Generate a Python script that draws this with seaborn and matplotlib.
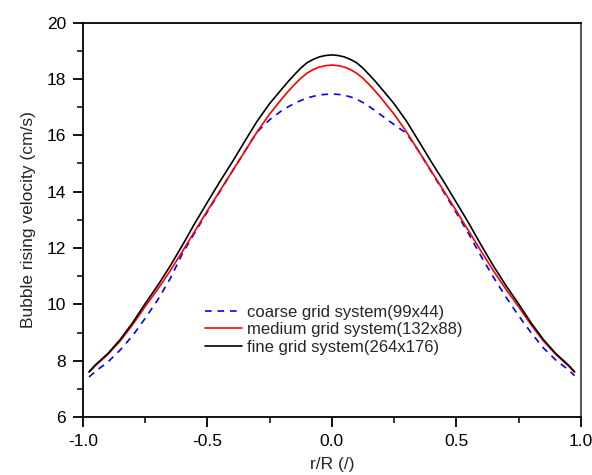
import matplotlib
matplotlib.use("Agg")
import matplotlib.pyplot as plt
import seaborn as sns
import pandas as pd
from matplotlib.ticker import MultipleLocator

sns.set_theme(style="white")
plt.rcParams['font.family'] = ['Liberation Sans', 'DejaVu Sans']

r = [-0.975, -0.95, -0.90, -0.85, -0.80, -0.75, -0.70, -0.65, -0.60, -0.55, -0.50,
     -0.45, -0.40, -0.35, -0.30, -0.25, -0.20, -0.175, -0.15, -0.125, -0.10, -0.075,
     -0.05, -0.025, 0.0,
     0.025, 0.05, 0.075, 0.10, 0.125, 0.15, 0.175, 0.20, 0.25, 0.30, 0.35, 0.40, 0.45, 0.50,
     0.55, 0.60, 0.65, 0.70, 0.75, 0.80, 0.85, 0.90, 0.95, 0.975]

coarse = [7.42, 7.62, 7.95, 8.38, 8.89, 9.50, 10.15, 10.90, 11.80, 12.55, 13.28,
          14.00, 14.72, 15.42, 16.12, 16.55, 16.88, 17.01, 17.13, 17.23, 17.32, 17.38,
          17.43, 17.45, 17.46,
          17.45, 17.42, 17.36, 17.28, 17.16, 17.02, 16.87, 16.70, 16.38, 16.07, 15.42,
          14.70, 13.98, 13.25,
          12.50, 11.70, 10.95, 10.25, 9.60, 9.00, 8.45, 8.02, 7.68, 7.47]

medium = [7.59, 7.82, 8.22, 8.70, 9.28, 9.92, 10.53, 11.18, 11.88, 12.60, 13.32,
          14.02, 14.72, 15.42, 16.12, 16.75, 17.30, 17.56, 17.80, 18.02, 18.20, 18.33,
          18.42, 18.47, 18.49,
          18.47, 18.42, 18.33, 18.20, 18.02, 17.80, 17.56, 17.30, 16.75, 16.12, 15.42,
          14.72, 14.02, 13.32,
          12.60, 11.88, 11.18, 10.53, 9.92, 9.28, 8.70, 8.22, 7.82, 7.59]

fine = [7.61, 7.85, 8.25, 8.75, 9.35, 10.02, 10.66, 11.35, 12.10, 12.88, 13.62,
        14.35, 15.05, 15.78, 16.50, 17.12, 17.65, 17.91, 18.15, 18.38, 18.57, 18.69,
        18.78, 18.83, 18.85,
        18.83, 18.78, 18.69, 18.57, 18.38, 18.15, 17.91, 17.65, 17.12, 16.50, 15.78,
        15.05, 14.35, 13.62,
        12.88, 12.10, 11.35, 10.66, 10.02, 9.35, 8.75, 8.25, 7.85, 7.61]

labels = ["coarse grid system(99x44)", "medium grid system(132x88)", "fine grid system(264x176)"]
colors = ["#0000ff", "#ff0000", "#000000"]

df = pd.concat([
    pd.DataFrame({"r": r, "v": coarse, "grid": labels[0]}),
    pd.DataFrame({"r": r, "v": medium, "grid": labels[1]}),
    pd.DataFrame({"r": r, "v": fine, "grid": labels[2]}),
])

fig = plt.figure(figsize=(5.92, 4.75), dpi=100)
ax = fig.add_axes([0.140, 0.122, 0.841, 0.8306])

sns.lineplot(data=df, x="r", y="v", hue="grid", style="grid",
             hue_order=labels, style_order=labels,
             palette=dict(zip(labels, colors)),
             dashes={labels[0]: (4, 3.5), labels[1]: "", labels[2]: ""},
             linewidth=1.2, sort=False, estimator=None, ax=ax)

ax.set_xlim(-1.0, 1.0)
ax.set_ylim(6, 20)
ax.xaxis.set_major_locator(MultipleLocator(0.5))
ax.xaxis.set_minor_locator(MultipleLocator(0.25))
ax.yaxis.set_major_locator(MultipleLocator(2))
ax.yaxis.set_minor_locator(MultipleLocator(1))
ax.set_xticks([-1.0, -0.5, 0.0, 0.5, 1.0])
ax.set_xticklabels(["-1.0", "-0.5", "0.0", "0.5", "1.0"])
ax.tick_params(axis='both', which='major', direction='out', length=7, width=1.3,
               labelsize=12.5, colors='black', pad=5,
               bottom=True, left=True, top=False, right=False)
ax.tick_params(axis='both', which='minor', direction='out', length=4, width=1.3,
               bottom=True, left=True, top=False, right=False)
for s in ax.spines.values():
    s.set_color('black')
    s.set_linewidth(1.3)
ax.spines['right'].set_color('#444444')

ax.set_xlabel("r/R (/)", fontsize=12.5, labelpad=6)
ax.set_ylabel("Bubble rising velocity (cm/s)", fontsize=12.5, labelpad=8)
ax.grid(False)

leg = ax.legend(loc='upper left', bbox_to_anchor=(0.232, 0.302), frameon=False,
                fontsize=12, handlelength=2.2, handletextpad=0.3, labelspacing=0.15,
                borderaxespad=0)

fig.savefig("out.png", dpi=100)
